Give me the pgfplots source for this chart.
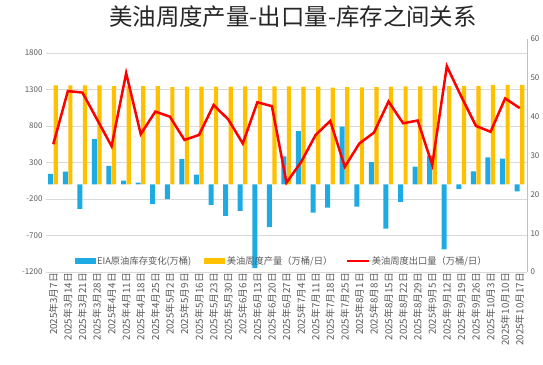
\documentclass[border=0pt]{standalone}
\usepackage{fontspec}
\setmainfont{Noto Sans CJK SC}
\usepackage{pgfplots}
\usepackage{pgfplotstable}
\pgfplotsset{compat=1.18}
\definecolor{cblue}{RGB}{30,170,226}
\definecolor{corange}{RGB}{255,192,0}
\definecolor{tickgray}{RGB}{89,89,89}
\definecolor{gridgray}{RGB}{217,217,217}
\definecolor{axgray}{RGB}{191,191,191}
\pgfplotstableread{
x inv prod exp
0 145 1357 32.9
1 175 1357 46.6
2 -334 1357 46.2
3 620 1358 39.3
4 255 1346 32.4
5 52 1346 51.2
6 24 1346 35.5
7 -270 1347 41.3
8 -203 1337 40.0
9 345 1339 34.0
10 133 1339 35.3
11 -280 1340 43.0
12 -430 1341 39.3
13 -364 1343 33.1
14 -1147 1343 43.7
15 -584 1344 42.7
16 385 1343 23.0
17 730 1339 28.3
18 -386 1338 35.3
19 -317 1327 38.9
20 790 1331 27.1
21 -303 1328 33.1
22 304 1333 35.9
23 -605 1338 43.9
24 -239 1344 38.3
25 242 1342 39.0
26 394 1350 27.6
27 -890 1348 53.0
28 -61 1350 45.1
29 179 1351 37.6
30 372 1363 36.1
31 352 1364 44.7
32 -96 1363 42.2
}\data
\begin{document}
\begin{tikzpicture}
\useasboundingbox (0,0) rectangle (543bp,365bp);
\node[text=black!85] at (293bp,348bp) {\fontsize{23.5}{25}\selectfont 美油周度产量-出口量-库存之间关系};
\begin{axis}[
  at={(46bp,93bp)}, anchor=south west,
  scale only axis, width=481bp, height=233bp,
  xmin=-0.5, xmax=32.5, ymin=-1200, ymax=1992,
  ytick={-1200,-700,-200,300,800,1300,1800},
  ymajorgrids, grid style={gridgray, line width=0.75pt},
  axis line style={draw=none},
  major tick length=0pt,
  xtick={0,...,32},
  xticklabels={2025年3月7日,2025年3月14日,2025年3月21日,2025年3月28日,2025年4月4日,2025年4月11日,2025年4月18日,2025年4月25日,2025年5月2日,2025年5月9日,2025年5月16日,2025年5月23日,2025年5月30日,2025年6月6日,2025年6月13日,2025年6月20日,2025年6月27日,2025年7月4日,2025年7月11日,2025年7月18日,2025年7月25日,2025年8月1日,2025年8月8日,2025年8月15日,2025年8月22日,2025年8月29日,2025年9月5日,2025年9月12日,2025年9月19日,2025年9月26日,2025年10月3日,2025年10月10日,2025年10月17日},
  xticklabel style={rotate=90, anchor=east, font=\fontsize{9.8}{10}\selectfont, text=tickgray, inner sep=1pt},
  yticklabel style={font=\fontsize{8}{9}\selectfont, text=tickgray},
  /pgf/number format/assume math mode=true,
  /pgf/number format/1000 sep={},
]
\addplot[ybar, bar width=5bp, bar shift=-2.6bp, fill=cblue, draw=none] table[x=x,y=inv]{\data};
\addplot[ybar, bar width=4.2bp, bar shift=2.5bp, fill=corange, draw=none] table[x=x,y=prod]{\data};
\end{axis}
\begin{axis}[
  at={(46bp,93bp)}, anchor=south west,
  scale only axis, width=481bp, height=233bp,
  xmin=-0.5, xmax=32.5, ymin=0, ymax=60,
  axis x line=none,
  axis y line*=right,
  y axis line style={axgray},
  major tick length=0pt,
  ytick={0,10,...,60},
  yticklabel style={font=\fontsize{8}{9}\selectfont, text=tickgray},
  /pgf/number format/assume math mode=true,
  legend columns=3,
  legend style={at={(0.49,0.047)}, anchor=center, draw=none, fill=none,
    font=\fontsize{9.3}{10}\selectfont, text=tickgray,
    /tikz/every even column/.append style={column sep=11bp}},
]
\addlegendimage{legend image code/.code={\fill[cblue] (0bp,-2.5bp) rectangle (20bp,2.5bp);}}
\addlegendentry{EIA原油库存变化(万桶)}
\addlegendimage{legend image code/.code={\fill[corange] (0bp,-2.5bp) rectangle (20bp,2.5bp);}}
\addlegendentry{美油周度产量（万桶/日）}
\addplot[red, line width=2.5bp, legend image code/.code={\draw[red, line width=2.5bp] (0bp,0bp) -- (22bp,0bp);}] table[x=x,y=exp]{\data};
\addlegendentry{美油周度出口量（万桶/日）}
\end{axis}
\end{tikzpicture}
\end{document}
